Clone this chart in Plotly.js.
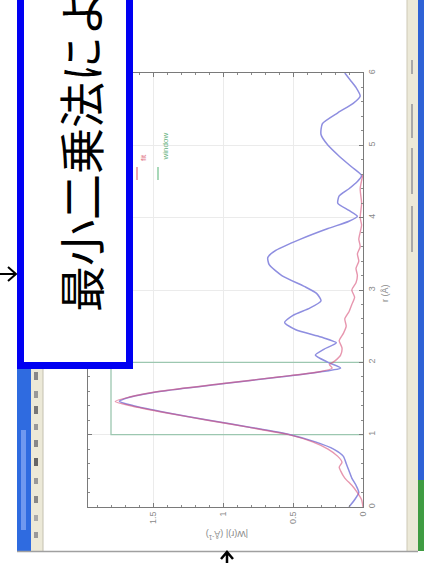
<!DOCTYPE html>
<html>
<head>
<meta charset="utf-8">
<script src="https://cdn.plot.ly/plotly-3.0.1.min.js"></script>
<style>html,body{margin:0;padding:0;background:#fff;}#plot{width:424px;height:563px;}</style>
</head>
<body>
<div id="plot"></div>
<script>
// ---- data (r in Å, |W(r)| in Å^-1) ----
const rBlue = [0.0,0.1,0.2,0.3,0.4,0.5,0.6,0.7,0.8,0.9,1.0,1.1,1.2,1.3,1.4,1.46,1.52,1.6,1.7,1.8,1.87,1.92,2.0,2.1,2.18,2.27,2.35,2.45,2.55,2.65,2.75,2.85,2.95,3.05,3.2,3.35,3.45,3.55,3.7,3.85,3.95,4.02,4.1,4.2,4.3,4.4,4.5,4.58,4.7,4.85,5.0,5.15,5.3,5.45,5.58,5.68,5.8,5.9,6.0];
const wBlue = [0.10,0.06,0.03,0.05,0.08,0.10,0.12,0.14,0.21,0.34,0.52,0.80,1.10,1.39,1.64,1.74,1.66,1.44,1.02,0.58,0.30,0.16,0.25,0.34,0.28,0.19,0.30,0.48,0.56,0.50,0.38,0.30,0.33,0.42,0.58,0.67,0.68,0.62,0.45,0.25,0.10,0.04,0.10,0.18,0.17,0.10,0.04,0.01,0.08,0.17,0.25,0.30,0.29,0.18,0.07,0.02,0.05,0.09,0.13];
const rRed = [0.0,0.1,0.2,0.3,0.4,0.5,0.55,0.62,0.7,0.8,0.9,1.0,1.1,1.2,1.3,1.4,1.46,1.52,1.6,1.7,1.8,1.87,1.92,1.97,2.02,2.1,2.2,2.3,2.4,2.5,2.6,2.7,2.8,2.9,3.0,3.1,3.2,3.3,3.4,3.5,3.6,3.7,3.8,3.9,4.0,4.2,4.4,4.6];
const wRed = [0.0,0.01,0.04,0.08,0.13,0.16,0.17,0.15,0.18,0.25,0.36,0.53,0.81,1.11,1.40,1.66,1.77,1.67,1.45,1.03,0.59,0.31,0.22,0.24,0.20,0.16,0.15,0.17,0.14,0.12,0.13,0.10,0.08,0.06,0.08,0.05,0.04,0.05,0.03,0.04,0.02,0.03,0.02,0.01,0.02,0.01,0.02,0.0];
const rWin = [1,1,2,2];
const wWin = [0,1.8,1.8,0];
const rTicks = [0,1,2,3,4,5,6];
const wTicks = [0,0.5,1,1.5];
const wTickText = ['0','0.5','1','1.5'];
const boxText = '最小二乗法によ';
const legendNames = ['fit','window'];

// ---- geometry helpers (pixel -> paper) ----
const L=88, R=363, T=73, B=507;
const px = x => (x-L)/(R-L);
const py = y => (B-y)/(B-T);
function rect(x0,y0,x1,y1,fill,layer){
  return {type:'rect',xref:'paper',yref:'paper',x0:px(x0),x1:px(x1),y0:py(y1),y1:py(y0),
          fillcolor:fill,line:{width:0},layer:layer||'below'};
}
function hline(x0,x1,y,color,w,layer){
  return {type:'line',xref:'paper',yref:'paper',x0:px(x0),x1:px(x1),y0:py(y),y1:py(y),line:{color:color,width:w},layer:layer||'below'};
}
function vline(x,y0,y1,color,w,layer){
  return {type:'line',xref:'paper',yref:'paper',x0:px(x),x1:px(x),y0:py(y0),y1:py(y1),line:{color:color,width:w},layer:layer||'below'};
}
function path(pts,color,w){
  // pts: array of polylines, each array of [x,y] pixel pairs
  let d='';
  pts.forEach(pl=>{pl.forEach((p,i)=>{d+=(i?' L':' M')+px(p[0]).toFixed(5)+','+py(p[1]).toFixed(5);});});
  return {type:'path',xref:'paper',yref:'paper',path:d.trim(),line:{color:color,width:w},layer:'above'};
}

const shapes = [
  rect(17,0,31,551,'#2f6be0'),
  rect(31,0,43,551,'#ece9d8'),
  vline(43,0,551,'#c4c0b0',1),
  rect(407,0,418,551,'#ece9d8'),
  vline(407,0,551,'#cdc9b6',1),
  rect(418,0,424,480,'#2e62d6'),
  rect(418,480,424,551,'#3f9c42'),
  hline(17,418,551.5,'#a0a0a0',1.5),
  // status bar text marks
  rect(411,60,413,74,'#a8a8a8'), rect(411,104,413,138,'#a8a8a8'),
  rect(411,148,413,194,'#a8a8a8'), rect(411,206,413,252,'#a8a8a8'),
  // toolbar icons
  rect(34,372,38,380,'#888'), rect(34,391,38,398,'#999'), rect(34,406,38,414,'#777'),
  rect(34,424,38,430,'#999'), rect(34,440,38,447,'#888'), rect(34,458,38,466,'#666'),
  rect(34,478,38,484,'#999'), rect(34,496,38,503,'#888'), rect(34,515,38,521,'#aaa'),
  rect(34,532,38,538,'#999'),
  // title bar detail
  rect(21,430,26,530,'#6f98ef'),
  // legend dashes
  vline(137,167,180,'#e0707e',1.2,'above'),
  vline(158,167,180,'#6fbf8a',1.2,'above'),
  // blue box
  {type:'rect',xref:'paper',yref:'paper',x0:px(20.5),x1:px(129.5),y0:py(365.5),y1:py(-30),
   fillcolor:'#ffffff',line:{color:'#0000f2',width:7},layer:'above'},
  // arrows
  path([[[-2,274],[16,274]],[[8,267],[16,274],[8,281]]],'#000',2),
  path([[[227,570],[227,552]],[[221,559],[227,552],[233,559]]],'#000',2.5)
];

const annotations = [
  {xref:'paper',yref:'paper',x:px(79),y:py(314),xanchor:'center',yanchor:'bottom',
   text:boxText,textangle:-90,showarrow:false,
   font:{family:'Noto Sans CJK JP',size:46,color:'#000'}},
  {xref:'paper',yref:'paper',x:px(392),y:py(293),text:'r (Å)',textangle:-90,showarrow:false,
   font:{family:'Liberation Sans',size:9,color:'#888'}},
  {xref:'paper',yref:'paper',x:px(227),y:py(543),text:'|W(r)| (Å<sup>-1</sup>)',textangle:180,showarrow:false,
   font:{family:'Liberation Sans',size:9,color:'#888'}},
  {xref:'paper',yref:'paper',x:px(137),y:py(163),yanchor:'bottom',text:legendNames[0],textangle:-90,showarrow:false,
   font:{family:'Liberation Sans',size:8,color:'#e0707e'}},
  {xref:'paper',yref:'paper',x:px(158),y:py(163),yanchor:'bottom',text:legendNames[1],textangle:-90,showarrow:false,
   font:{family:'Liberation Sans',size:8,color:'#5fb07a'}}
];

const traces = [
  {x:wWin,y:rWin,mode:'lines',name:legendNames[1],line:{color:'#9cc7b0',width:1.3},hoverinfo:'skip'},
  {x:wBlue,y:rBlue,mode:'lines',name:'data',line:{color:'#8e8ee0',width:1.5,shape:'spline',smoothing:0.6}},
  {x:wRed,y:rRed,mode:'lines',name:legendNames[0],line:{color:'rgba(215,80,120,0.6)',width:1.4,shape:'spline',smoothing:0.6}}
];

const axisCommon = {showline:true,linecolor:'#7a7a7a',linewidth:1,mirror:'allticks',ticks:'inside',
  ticklen:4,tickcolor:'#7a7a7a',showgrid:true,gridcolor:'#ebebeb',zeroline:false,
  tickfont:{family:'Liberation Sans',size:9,color:'#8a8a8a'},tickangle:-90};

const layout = {
  width:424,height:563,
  margin:{l:L,r:424-R,t:T,b:563-B,pad:0},
  paper_bgcolor:'#ffffff',plot_bgcolor:'rgba(0,0,0,0)',
  showlegend:false,
  xaxis:Object.assign({},axisCommon,{range:[(R-L)/140,0],tickvals:wTicks,ticktext:wTickText,
     minor:{dtick:0.1,ticks:'inside',ticklen:2,tickcolor:'#8a8a8a',showgrid:false}}),
  yaxis:Object.assign({},axisCommon,{range:[0,6],side:'right',tickvals:rTicks,
     minor:{dtick:0.2,ticks:'inside',ticklen:2,tickcolor:'#8a8a8a',showgrid:false}}),
  shapes:shapes,
  annotations:annotations
};

Plotly.newPlot('plot',traces,layout,{displayModeBar:false,staticPlot:true});
</script>
</body>
</html>
